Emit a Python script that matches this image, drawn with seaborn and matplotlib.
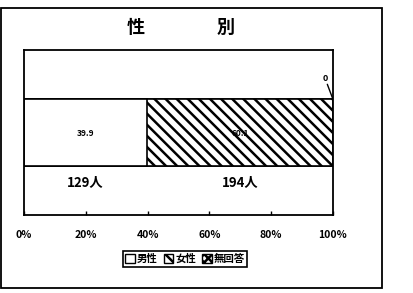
import matplotlib
matplotlib.use("Agg")
import matplotlib.pyplot as plt
import seaborn as sns
import pandas as pd
from matplotlib.patches import Patch, Rectangle

# datos
categorias = ['男性', '女性', '無回答']
porcentajes = [39.9, 60.1, 0.0]
personas = [129, 194, 0]
etiquetas_x = ['0%', '20%', '40%', '60%', '80%', '100%']
tramas = ['', '\\\\\\', 'xxxx']

sns.set_style('white')
plt.rcParams['font.family'] = ['Noto Sans CJK JP', 'DejaVu Sans']
plt.rcParams['hatch.linewidth'] = 1.8
plt.rcParams['text.color'] = 'black'
plt.rcParams['xtick.color'] = 'black'
plt.rcParams['xtick.labelcolor'] = 'black'

fig = plt.figure(figsize=(4.13, 2.93), dpi=100)
ax = fig.add_axes([0.058, 0.266, 0.748, 0.563])

# barras apiladas: se dibuja el acumulado de mayor a menor
acumulado = pd.Series(porcentajes).cumsum().tolist()
for i in reversed(range(len(categorias))):
    sns.barplot(x=[acumulado[i]], y=[0], orient='h', color='white',
                edgecolor='black', linewidth=1.2, width=1, errorbar=None,
                hatch=tramas[i], ax=ax)

ax.set_xlim(0, 100)
ax.set_ylim(1.23, -1.23)
ax.set_xticks([0, 20, 40, 60, 80, 100])
ax.set_xticklabels(etiquetas_x, fontsize=7.5, fontweight='bold', color='black')
ax.set_yticks([])
ax.set_ylabel('')
ax.set_xlabel('')
ax.tick_params(axis='x', direction='in', length=3, width=1, pad=11, bottom=True)
for s in ax.spines.values():
    s.set_linewidth(1.3)
    s.set_color('black')

# valores
inicio = 0
for i, (p, n) in enumerate(zip(porcentajes, personas)):
    centro = inicio + p / 2
    if p > 0:
        ax.text(centro, 0.02, f'{p}', ha='center', va='center', fontsize=6, fontweight='bold')
        ax.text(centro, 0.74, f'{n}人', ha='center', va='center', fontsize=9.5, fontweight='bold')
    else:
        ax.text(inicio - 2.5, -0.81, f'{p:g}', ha='center', va='center', fontsize=6.5, fontweight='bold')
        ax.plot([inicio - 1.8, inicio], [-0.72, -0.5], color='black', linewidth=1)
    inicio += p

# leyenda
handles = [Patch(facecolor='white', edgecolor='black', hatch=t, linewidth=1) for t in tramas]
leg = fig.legend(handles, categorias, loc='center', bbox_to_anchor=(185 / 413, 1 - 259 / 293),
                 ncol=3, handlelength=0.9, handleheight=0.9, handletextpad=0.2,
                 columnspacing=0.6, borderpad=0.25, fancybox=False, framealpha=1,
                 prop={'weight': 'bold', 'size': 7.5})
leg.get_frame().set_edgecolor('black')
leg.get_frame().set_linewidth(1.2)

# título
fig.text(181 / 413, 1 - 27 / 293, '性　　　　別', ha='center', va='center',
         fontsize=13, fontweight='bold', color='black')

# marco exterior
fig.patches.append(Rectangle((1 / 413, 1 - 288 / 293), 381 / 413, 280 / 293,
                             transform=fig.transFigure, fill=False,
                             edgecolor='black', linewidth=1.3))

fig.savefig('out.png', dpi=100)
